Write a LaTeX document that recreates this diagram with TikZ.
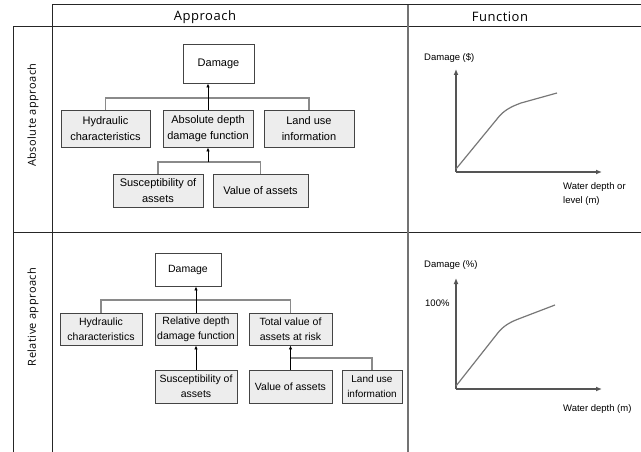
\documentclass[tikz,border=0pt]{standalone}
\usepackage{fontspec}
\setmainfont{Liberation Sans}
\newfontfamily\hdrfont[LetterSpace=4]{Open Sans}
\usetikzlibrary{arrows.meta}
\definecolor{boxfill}{HTML}{EDEDED}
\definecolor{boxline}{HTML}{444444}
\definecolor{conn}{HTML}{8A8A8A}
\definecolor{axis}{HTML}{555555}
\tikzset{
  box/.style={draw=boxline, line width=0.9pt, fill=boxfill, inner sep=0pt, align=center,
    font=\fontsize{10.5}{15}\selectfont},
  bigbox/.style={box, font=\fontsize{11}{16}\selectfont},
  topbox/.style={box, fill=white},
  link/.style={draw=conn, line width=1.2pt},
  uparrow/.style={draw=black, line width=1pt, -{Latex[length=4pt,width=3.5pt]}},
  axisline/.style={draw=axis, line width=1.4pt, -{Latex[length=6pt,width=5pt]}},
  curveline/.style={draw=axis!80, line width=1.2pt},
  grid/.style={draw=black!85, line width=1pt},
  divider/.style={draw=black!55, line width=1.6pt},
  hdr/.style={font=\hdrfont\fontsize{13}{15}\selectfont},
  rowlab/.style={font=\hdrfont\fontsize{11}{13}\selectfont, rotate=90},
  axlab/.style={anchor=west, align=left, inner sep=0pt, font=\fontsize{9.5}{14}\selectfont}
}
\begin{document}
\begin{tikzpicture}[x=1pt, y=-1pt]
\useasboundingbox (0,0) rectangle (641,452);
% table grid
\draw[grid] (52,5) -- (641,5);
\draw[grid] (13,27) -- (641,27);
\draw[grid] (13,232) -- (641,232);
\draw[grid] (13,27) -- (13,452);
\draw[grid] (52,5) -- (52,452);
\draw[divider] (408,5) -- (408,452);
% headers
\node[hdr] (hApp) at (205,17) {Approach};
\node[hdr] (hFun) at (500,17) {Function};
\node[rowlab] (rAbs) at (33,115) {Absolute approach};
\node[rowlab] (rRel) at (33,317) {Relative approach};

% ---------- Row 1: absolute approach ----------
\node[topbox, bigbox, fill=white, minimum width=71pt, minimum height=39pt] (dmg1) at (218.5,63.5) {Damage};
\node[bigbox, minimum width=89pt, minimum height=37pt] (hyd1) at (105.5,128.5) {Hydraulic\\characteristics};
\node[bigbox, minimum width=90pt, minimum height=37pt] (abs1) at (208,128.5) {Absolute depth\\damage function};
\node[bigbox, minimum width=90pt, minimum height=37pt] (land1) at (309,128.5) {Land use\\information};
\node[bigbox, minimum width=90pt, minimum height=33pt] (sus1) at (158,190.5) {Susceptibility of\\assets};
\node[bigbox, minimum width=95pt, minimum height=33pt] (val1) at (260.5,190.5) {Value of assets};
\coordinate (j1) at (208,98);
\coordinate (j2) at (208,162);
\draw[link] (hyd1.north) |- (j1) -| (land1.north);
\draw[uparrow] (abs1.north) -- (abs1.north |- dmg1.south);
\draw[link] (sus1.north) |- (j2) -| (val1.north);
\draw[uparrow] (j2) -- (abs1.south);

% ---------- Row 2: relative approach ----------
\node[topbox, minimum width=66pt, minimum height=33pt] (dmg2) at (188,269.5) {Damage};
\node[box, minimum width=82pt, minimum height=32pt] (hyd2) at (101,329) {Hydraulic\\characteristics};
\node[box, minimum width=82pt, minimum height=32pt] (rel2) at (196,329) {Relative depth\\damage function};
\node[box, minimum width=83pt, minimum height=32pt] (tot2) at (290.5,329) {Total value of\\assets at risk};
\node[box, minimum width=82pt, minimum height=33pt] (sus2) at (196,386.5) {Susceptibility of\\assets};
\node[box, minimum width=83pt, minimum height=33pt] (val2) at (290.5,386.5) {Value of assets};
\node[box, minimum width=60pt, minimum height=33pt, font=\fontsize{10}{15}\selectfont] (land2) at (372,386.5) {Land use\\information};
\coordinate (k1) at (196,300);
\coordinate (k2) at (290.5,358);
\draw[link] (hyd2.north) |- (k1) -| (tot2.north);
\draw[uparrow] (rel2.north) -- (rel2.north |- dmg2.south);
\draw[uparrow] (sus2.north) -- (rel2.south);
\draw[link] (k2) -| (land2.north);
\draw[uparrow] (val2.north) -- (tot2.south);

% ---------- Chart 1 ----------
\coordinate (o1) at (456,172);
\coordinate (y1) at (456,69);
\coordinate (x1) at (602,172);
\draw[axisline] (o1) -- (y1);
\draw[axisline] (o1) -- (x1);
\draw[curveline] (456,169) -- (497,119) .. controls (503,111) and (510,107) .. (521,103) -- (557,93);
\node[axlab] (ylab1) at (424,58) {Damage (\$)};
\node[axlab, anchor=north west] (xlab1) at (563,182) {Water depth or\\level (m)};

% ---------- Chart 2 ----------
\coordinate (o2) at (456,389);
\coordinate (y2) at (456,278);
\coordinate (x2) at (602,389);
\draw[axisline] (o2) -- (y2);
\draw[axisline] (o2) -- (x2);
\draw[curveline] (456,386) -- (497,334) .. controls (503,326) and (510,322) .. (521,318) -- (555,305);
\node[axlab] (ylab2) at (424,265) {Damage (\%)};
\node[axlab] (pct) at (425,303) {100\%};
\node[axlab] (xlab2) at (563,409) {Water depth (m)};
\end{tikzpicture}
\end{document}
